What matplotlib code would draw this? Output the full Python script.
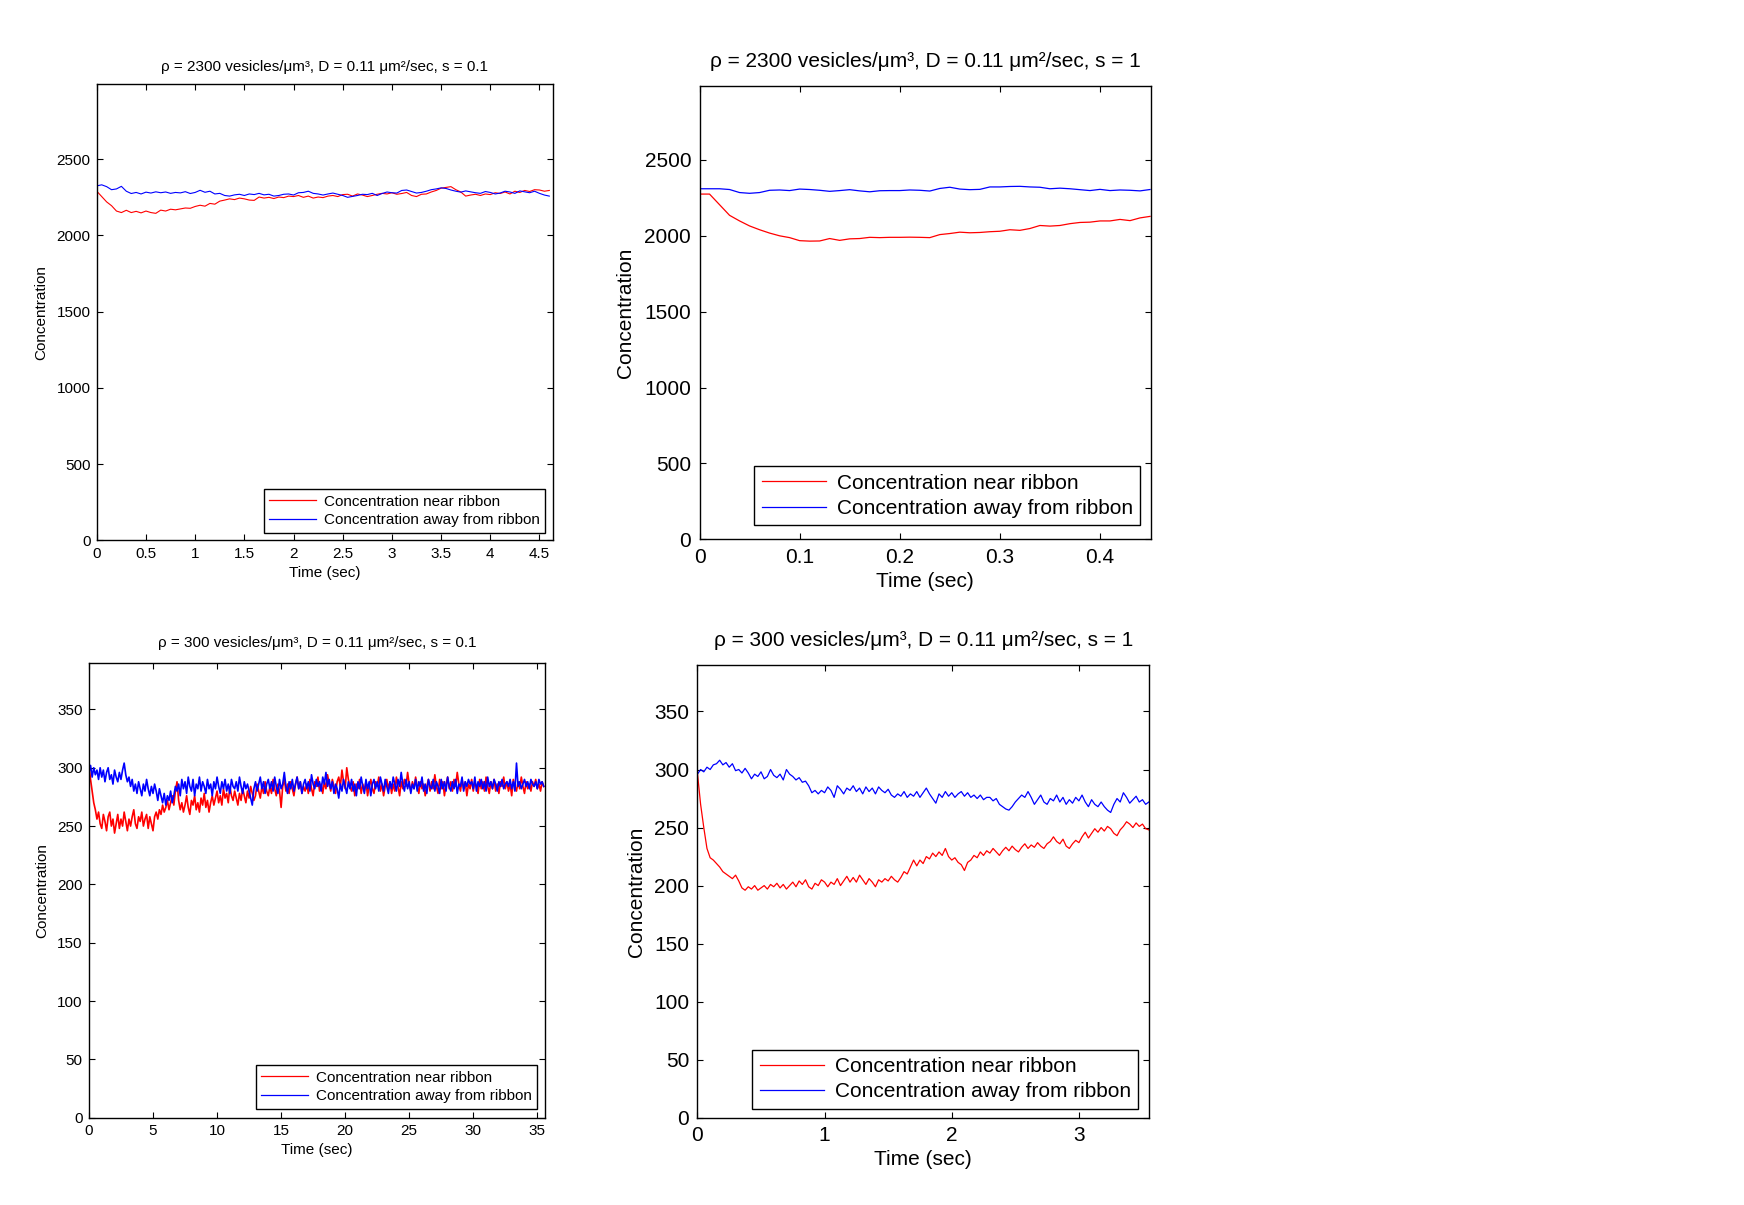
import numpy as np
import matplotlib
matplotlib.use("Agg")
import matplotlib.pyplot as plt
from matplotlib.ticker import FormatStrFormatter

plt.rcParams['font.family'] = ['Liberation Sans', 'DejaVu Sans']

# ---- data (values in vesicles, time step per panel) ----
# top left: rho = 2300, s = 0.1, sampled every 0.05 s
dt_tl = 0.05
near_tl = [2290, 2255, 2220, 2195, 2160, 2150, 2165, 2150, 2158, 2148, 2160, 2150, 2145, 2166, 2160,
           2172, 2168, 2174, 2180, 2178, 2190, 2198, 2192, 2210, 2205, 2225, 2232, 2240, 2235, 2245,
           2240, 2232, 2230, 2252, 2245, 2250, 2242, 2252, 2248, 2258, 2255, 2262, 2250, 2258, 2245,
           2252, 2248, 2258, 2262, 2255, 2268, 2270, 2258, 2272, 2265, 2255, 2262, 2270, 2276, 2272,
           2280, 2270, 2275, 2282, 2262, 2255, 2270, 2272, 2285, 2295, 2310, 2315, 2320, 2300, 2285,
           2258, 2265, 2270, 2262, 2272, 2268, 2280, 2275, 2285, 2272, 2290, 2282, 2295, 2288, 2300,
           2298, 2290, 2295]
away_tl = [2325, 2332, 2320, 2300, 2305, 2322, 2290, 2275, 2282, 2272, 2284, 2278, 2286, 2280, 2285,
           2276, 2282, 2279, 2287, 2275, 2282, 2296, 2283, 2290, 2272, 2276, 2262, 2258, 2266, 2270,
           2262, 2272, 2268, 2276, 2266, 2270, 2258, 2262, 2270, 2272, 2265, 2280, 2282, 2290, 2276,
           2272, 2265, 2272, 2278, 2270, 2262, 2250, 2256, 2262, 2270, 2268, 2276, 2262, 2275, 2285,
           2280, 2278, 2295, 2298, 2288, 2278, 2282, 2290, 2300, 2305, 2312, 2308, 2298, 2290, 2284,
           2292, 2286, 2280, 2276, 2288, 2282, 2272, 2278, 2290, 2285, 2276, 2292, 2286, 2280, 2290,
           2276, 2265, 2258]

# top right: rho = 2300, s = 1, sampled every 0.01 s
dt_tr = 0.01
near_tr = [2275, 2275, 2205, 2135, 2098, 2065, 2040, 2018, 2000, 1988, 1968, 1965, 1966, 1982, 1970,
           1980, 1982, 1990, 1988, 1990, 1990, 1991, 1990, 1988, 2008, 2015, 2024, 2020, 2022, 2027,
           2030, 2040, 2036, 2048, 2068, 2064, 2068, 2080, 2088, 2090, 2098, 2098, 2108, 2100, 2118,
           2128]
away_tr = [2310, 2310, 2310, 2305, 2285, 2280, 2285, 2300, 2302, 2298, 2308, 2305, 2300, 2293, 2298,
           2304, 2296, 2290, 2297, 2298, 2298, 2302, 2300, 2295, 2312, 2320, 2308, 2304, 2306, 2322,
           2322, 2325, 2326, 2322, 2320, 2310, 2314, 2310, 2304, 2298, 2306, 2298, 2302, 2300, 2296,
           2305]

# bottom left: rho = 300, s = 0.1, sampled every 0.125 s
dt_bl = 0.125
near_bl = [302, 290, 280, 270, 264, 256, 262, 252,
           248, 260, 254, 246, 258, 262, 250, 256, 244, 252, 260, 248, 256, 250, 262, 254,
           246, 256, 250, 258, 264, 252, 248, 258, 254, 262, 250, 256, 260, 248, 258, 252,
           246, 258, 262, 256, 264, 260, 268, 262, 266, 272, 264, 270, 276, 268, 280, 288,
           272, 264, 270, 262, 268, 276, 266, 260, 272, 268, 276, 264, 270, 262, 274, 268,
           278, 266, 272, 262, 270, 276, 268, 274,
           280, 270, 276, 268, 282, 274, 278, 270, 284, 276, 272, 280, 274, 268, 278, 272,
           282, 276, 270, 280, 274, 284, 278, 272,
           276, 286, 280, 274, 284, 278, 288, 280, 276, 284, 278, 290, 282, 276, 286, 280,
           266, 284, 290, 280, 286, 278, 288, 282, 276, 286, 292, 282, 288, 278, 284, 280,
           286, 278, 290, 282, 276, 288, 284, 292, 280, 286, 278, 288, 282, 294, 286, 280,
           290, 284, 278, 288, 292, 284, 298, 288, 282, 300, 290, 284, 280, 288, 276, 286,
           282, 290, 278, 286, 280, 288, 276, 284, 290, 282, 278, 288, 284, 292, 280, 286,
           276, 284, 290, 282, 288, 278, 286, 280, 292, 284, 276, 288, 282, 290, 284, 296,
           286, 280, 288, 282, 292, 284, 278, 288, 282, 286, 276, 284, 290, 280, 288, 282,
           294, 284, 278, 290, 282, 288, 276, 286, 292, 282, 288, 280, 290, 284, 296, 286,
           280, 290, 282, 288, 276, 286, 282, 290, 280, 288, 284, 278, 290, 282, 288, 280,
           292, 284, 278, 288, 282, 290, 280, 286, 278, 288, 284, 292, 282, 288, 280, 286,
           276, 290, 284, 280, 288, 282, 292, 284, 278, 288, 282, 286, 280, 288, 284, 290,
           282, 286, 280, 288, 284]
away_bl = [296, 302, 292, 300, 294, 298, 290, 300,
           292, 298, 288, 296, 300, 290, 294, 286, 298, 292, 288, 296, 290, 298, 304, 294,
           288, 292, 284, 290, 280, 286, 278, 288, 282, 276, 286, 280, 290, 282, 276, 284,
           278, 286, 280, 272, 282, 276, 270, 278, 268, 276, 272, 280, 270, 276, 284, 280,
           286, 276, 290, 282, 288, 278, 292, 284, 280, 290, 276, 286, 282, 292, 280, 288,
           284, 278, 290, 282, 286, 276, 288, 282, 292, 284, 278, 288, 282, 290, 280, 286,
           278, 290, 284, 282, 288, 280, 292, 284, 278, 288, 282, 286, 280, 274, 268, 282,
           288, 280, 286, 292, 282, 288, 278, 286, 290, 282, 288, 280, 292, 284, 278, 290,
           282, 286, 296, 284, 278, 288, 282, 290, 280, 286, 292, 282, 288, 278, 286, 290,
           282, 288, 280, 294, 286, 282, 290, 284, 288, 280, 292, 286, 296, 284, 290, 282,
           288, 278, 286, 282, 274, 286, 280, 290, 284, 278, 288, 282, 290, 280, 286, 276,
           288, 282, 292, 284, 278, 290, 282, 288, 276, 286, 290, 282, 288, 280, 292, 286,
           280, 290, 284, 278, 288, 282, 292, 286, 280, 290, 284, 296, 286, 280, 290, 282,
           288, 278, 286, 282, 290, 280, 288, 284, 292, 280, 286, 278, 290, 284, 282, 290,
           280, 288, 284, 278, 290, 282, 288, 280, 292, 284, 280, 288, 282, 290, 278, 286,
           284, 292, 280, 288, 284, 290, 286, 288, 282, 292, 280, 288, 284, 290, 282, 288,
           280, 292, 284, 288, 282, 290, 286, 280, 288, 284, 290, 282, 286, 288, 284, 290,
           282, 288, 280, 304, 284, 288, 282, 286, 290, 284, 288, 282, 290, 286, 284, 288,
           282, 290, 286, 288, 284]

# bottom right: rho = 300, s = 1, sampled every 0.025 s
dt_br = 0.025
near_br = [297, 270, 250, 232, 224, 222, 219, 216, 212, 210, 208, 206, 209, 204, 198, 196, 199, 197,
           200, 196, 198, 200, 197, 201, 199, 202, 198, 201, 197, 200, 203, 199, 204, 201, 205, 199,
           197, 202, 200, 205, 203, 199, 203, 201, 206, 200, 204, 208, 203, 207, 203, 209, 205, 201,
           206, 203, 199, 205, 203, 206, 204, 208, 205, 203, 207, 212, 210, 216, 222, 217, 222, 219,
           225, 223, 228, 225, 229, 226, 232, 225, 222, 224, 220, 218, 213, 220, 222, 226, 224, 229,
           226, 230, 228, 232, 229, 226, 230, 233, 230, 234, 231, 229, 233, 236, 232, 235, 233, 237,
           234, 232, 236, 238, 242, 238, 236, 240, 234, 232, 236, 239, 237, 242, 246, 241, 245, 249,
           246, 250, 247, 251, 249, 245, 243, 248, 251, 255, 253, 250, 254, 251, 253, 249, 248]
away_br = [296, 300, 298, 302, 300, 304, 305, 308, 304, 306, 302, 305, 299, 300, 297, 301, 297, 292,
           296, 294, 298, 292, 294, 300, 295, 293, 296, 291, 300, 296, 294, 291, 293, 289, 290, 286,
           280, 282, 279, 282, 280, 285, 282, 276, 286, 283, 279, 284, 282, 286, 281, 284, 279, 285,
           281, 284, 279, 285, 282, 280, 283, 278, 276, 279, 277, 281, 276, 279, 277, 281, 276, 280,
           284, 279, 275, 271, 279, 276, 281, 277, 280, 276, 279, 281, 277, 280, 276, 278, 275, 278,
           274, 276, 276, 273, 275, 270, 268, 266, 265, 268, 272, 275, 278, 276, 281, 276, 270, 274,
           278, 272, 270, 275, 273, 278, 272, 276, 270, 274, 271, 276, 273, 278, 272, 268, 274, 270,
           268, 272, 268, 265, 263, 270, 275, 272, 280, 276, 271, 274, 277, 272, 274, 270, 272]

labels = ['Concentration near ribbon', 'Concentration away from ribbon']

panels = [
    dict(rect=[0.0555, 0.5515, 0.2615, 0.3784], dt=dt_tl, near=near_tl, away=away_tl,
         xlim=4.636, xticks=np.arange(0, 4.6, 0.5), ylim=2990, yticks=np.arange(0, 2501, 500),
         title='ρ = 2300 vesicles/μm³, D = 0.11 μm²/sec, s = 0.1', fs=11, lw=0.8,
         leg=(0.983, 0.017), ylab=-0.122, xlab=-0.071, ttl=1.039),
    dict(rect=[0.4011, 0.5524, 0.2589, 0.3766], dt=dt_tr, near=near_tr, away=away_tr,
         xlim=0.451, xticks=np.arange(0, 0.41, 0.1), ylim=2990, yticks=np.arange(0, 2501, 500),
         title='ρ = 2300 vesicles/μm³, D = 0.11 μm²/sec, s = 1', fs=15, lw=0.9,
         leg=(0.976, 0.031), ylab=-0.163, xlab=-0.093, ttl=1.054),
    dict(rect=[0.0510, 0.0724, 0.2615, 0.3776], dt=dt_bl, near=near_bl, away=away_bl,
         xlim=35.6, xticks=np.arange(0, 36, 5), ylim=390, yticks=np.arange(0, 351, 50),
         title='ρ = 300 vesicles/μm³, D = 0.11 μm²/sec, s = 0.1', fs=11, lw=1.2,
         leg=(0.983, 0.020), ylab=-0.102, xlab=-0.071, ttl=1.044),
    dict(rect=[0.3999, 0.0724, 0.2589, 0.3757], dt=dt_br, near=near_br, away=away_br,
         xlim=3.551, xticks=np.arange(0, 4, 1), ylim=390, yticks=np.arange(0, 351, 50),
         title='ρ = 300 vesicles/μm³, D = 0.11 μm²/sec, s = 1', fs=15, lw=0.9,
         leg=(0.976, 0.020), ylab=-0.136, xlab=-0.093, ttl=1.054),
]

fig = plt.figure(figsize=(17.44, 12.05), dpi=100)

for p in panels:
    ax = fig.add_axes(p['rect'])
    fs = p['fs']
    t_near = np.arange(len(p['near'])) * p['dt']
    t_away = np.arange(len(p['away'])) * p['dt']
    ax.plot(t_near, p['near'], color='#ff0000', lw=p['lw'], label=labels[0])
    ax.plot(t_away, p['away'], color='#0000ff', lw=p['lw'], label=labels[1])

    ax.set_xlim(0, p['xlim'])
    ax.set_ylim(0, p['ylim'])
    ax.set_xticks(p['xticks'])
    ax.set_yticks(p['yticks'])
    ax.xaxis.set_major_formatter(FormatStrFormatter('%g'))
    ax.yaxis.set_major_formatter(FormatStrFormatter('%g'))
    ax.tick_params(direction='in', top=True, right=True, length=4,
                   width=0.8, labelsize=fs, pad=fs * 0.4)
    for s in ax.spines.values():
        s.set_linewidth(1.0)

    ax.set_xlabel('Time (sec)', fontsize=fs, va='center')
    ax.xaxis.set_label_coords(0.5, p['xlab'])
    ax.set_ylabel('Concentration', fontsize=fs, va='center')
    ax.yaxis.set_label_coords(p['ylab'], 0.5)
    ax.text(0.5, p['ttl'], p['title'], transform=ax.transAxes, ha='center', va='center',
            fontsize=fs)

    leg = ax.legend(loc='lower right', bbox_to_anchor=p['leg'], borderaxespad=0,
                    fontsize=fs, fancybox=False, framealpha=1, edgecolor='black',
                    handlelength=3.1, handletextpad=0.5, labelspacing=0.3, borderpad=0.35)
    leg.get_frame().set_linewidth(1.0)
    for h in leg.get_lines():
        h.set_linewidth(0.9)

fig.savefig('out.png', dpi=100, facecolor='white')
